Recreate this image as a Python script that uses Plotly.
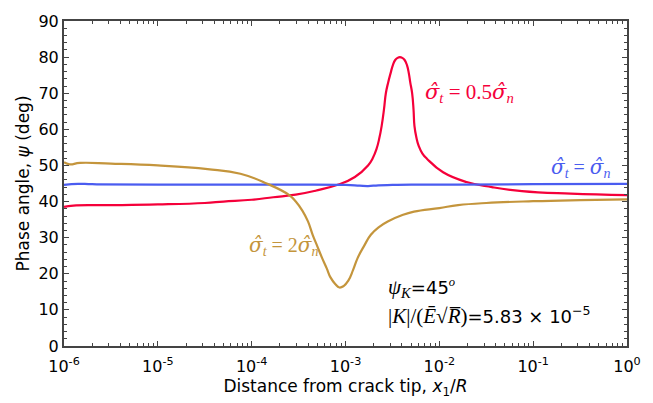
import numpy as np
import plotly.graph_objects as go

# Phase angle vs. normalised distance from the crack tip (x in log10 units)
red_log10x = [-6.00, -5.90, -5.50, -5.00, -4.50, -4.30, -4.00, -3.77, -3.53, -3.32,
              -3.075, -2.90, -2.76, -2.71, -2.67, -2.64, -2.615, -2.59, -2.57, -2.545,
              -2.52, -2.495, -2.47, -2.445, -2.42, -2.395, -2.37, -2.345, -2.325, -2.31,
              -2.29, -2.275, -2.265, -2.245, -2.22, -2.18, -2.13, -1.96, -1.71, -1.44,
              -1.12, -0.60, 0.00]
red_psi = [38.5, 38.9, 39.0, 39.2, 39.6, 40.0, 40.5, 41.2, 41.9, 43.0,
           44.7, 46.8, 50.0, 52.0, 54.5, 57.5, 60.9, 65.5, 70.0, 73.0,
           75.5, 77.8, 79.2, 79.8, 80.0, 79.8, 79.2, 77.8, 75.5, 73.0,
           70.0, 65.5, 60.9, 57.8, 55.4, 53.3, 51.8, 48.1, 45.4, 44.0,
           42.9, 42.2, 41.8]

blue_log10x = [-6.00, -5.85, -5.70, -5.00, -4.00, -3.50, -3.00, -2.85, -2.76, -2.65,
               -2.50, -2.30, -2.00, -1.00, 0.00]
blue_psi = [44.6, 44.9, 44.8, 44.7, 44.7, 44.7, 44.6, 44.4, 44.3, 44.5,
            44.6, 44.7, 44.7, 44.8, 44.9]

gold_log10x = [-6.00, -5.94, -5.83, -5.50, -5.00, -4.47, -4.12, -3.84, -3.60, -3.53,
               -3.46, -3.40, -3.35, -3.30, -3.25, -3.20, -3.16, -3.11, -3.065, -3.02,
               -2.97, -2.92, -2.87, -2.80, -2.73, -2.64, -2.55, -2.40, -2.27, -2.00,
               -1.80, -1.50, -1.00, -0.50, 0.00]
gold_psi = [50.9, 50.3, 50.7, 50.5, 50.0, 49.0, 47.7, 45.0, 41.8, 40.0,
            37.5, 34.5, 30.8, 27.6, 24.4, 21.5, 19.0, 17.2, 16.2, 16.6,
            18.1, 21.0, 24.4, 27.8, 30.8, 33.0, 34.5, 36.2, 37.2, 38.2,
            39.0, 39.6, 40.1, 40.4, 40.6]

x_tick_vals = [1e-6, 1e-5, 1e-4, 1e-3, 1e-2, 1e-1, 1e0]
x_tick_text = ["10<sup>-6</sup>", "10<sup>-5</sup>", "10<sup>-4</sup>", "10<sup>-3</sup>",
               "10<sup>-2</sup>", "10<sup>-1</sup>", "10<sup>0</sup>"]
y_tick_vals = [0, 10, 20, 30, 40, 50, 60, 70, 80, 90]

RED = "#f5003a"
BLUE = "#4a5cf0"
GOLD = "#c4953c"
AXIS = "#444444"
SERIF = "Liberation Serif"
SANS = "DejaVu Sans"

fig = go.Figure()
for lx, psi, col in [(red_log10x, red_psi, RED),
                     (blue_log10x, blue_psi, BLUE),
                     (gold_log10x, gold_psi, GOLD)]:
    fig.add_trace(go.Scatter(
        x=10.0 ** np.array(lx), y=psi, mode="lines",
        line=dict(color=col, width=2.2, shape="spline", smoothing=1.3),
        showlegend=False, hoverinfo="skip"))

axis_common = dict(
    showline=True, linecolor=AXIS, linewidth=2, mirror="ticks",
    ticks="inside", ticklen=5, tickwidth=1.2, tickcolor=AXIS,
    showgrid=False, zeroline=False,
    tickfont=dict(family=SANS, size=16, color="black"),
)

fig.update_xaxes(
    type="log", range=[-6, 0],
    tickvals=x_tick_vals, ticktext=x_tick_text, ticklabelstandoff=5,
    minor=dict(ticks="inside", ticklen=3, tickwidth=1, tickcolor=AXIS, dtick="D1", showgrid=False),
    title=dict(text="Distance from crack tip, <i>x</i><sub>1</sub>/<i>R</i>",
               font=dict(family=SANS, size=17, color="black"), standoff=2),
    **axis_common)
fig.update_yaxes(
    range=[0, 90], tickvals=y_tick_vals,
    minor=dict(ticks="inside", ticklen=3, tickwidth=1, tickcolor=AXIS, dtick=2, showgrid=False),
    title=dict(text="Phase angle, <i>ψ</i> (deg)",
               font=dict(family=SANS, size=17, color="black"), standoff=4),
    **axis_common)

sig = '<span style="font-family:DejaVu Serif"><i>σ̂</i></span>'
labels = [
    (sig + "<sub><i>t</i></sub> = 0.5" + sig + "<sub><i>n</i></sub>", -1.68, 70, RED, "center", 21),
    (sig + "<sub><i>t</i></sub> = " + sig + "<sub><i>n</i></sub>", -0.50, 49.2, BLUE, "center", 20),
    (sig + "<sub><i>t</i></sub> = 2" + sig + "<sub><i>n</i></sub>", -3.27, 27.6, GOLD, "right", 20),
]
for text, lx, yv, col, align, size in labels:
    fig.add_annotation(x=lx, y=yv, text=text, showarrow=False,
                       xanchor=align, yanchor="middle",
                       font=dict(family=SERIF, size=size, color=col))

fig.add_annotation(
    x=-2.57, y=16.2, xanchor="left", yanchor="middle", showarrow=False,
    text='<span style="font-family:Liberation Serif;font-size:21px"><i>ψ</i><sub><i>K</i></sub></span>=45'
         '<sup><span style="font-family:Liberation Serif"><i>o</i></span></sup>',
    font=dict(family=SANS, size=18, color="black"))
fig.add_annotation(
    x=-2.57, y=8.5, xanchor="left", yanchor="middle", showarrow=False,
    text='<span style="font-family:Liberation Serif;font-size:21px">|<i>K</i>|/(<i>Ē</i>√<i>R̅</i>)</span>'
         '=5.83 × 10<sup>−5</sup>',
    font=dict(family=SANS, size=18, color="black"))

fig.update_layout(
    width=653, height=403,
    margin=dict(l=64, r=16, t=17, b=57),
    paper_bgcolor="white", plot_bgcolor="white",
)

fig.write_html("out.html")
